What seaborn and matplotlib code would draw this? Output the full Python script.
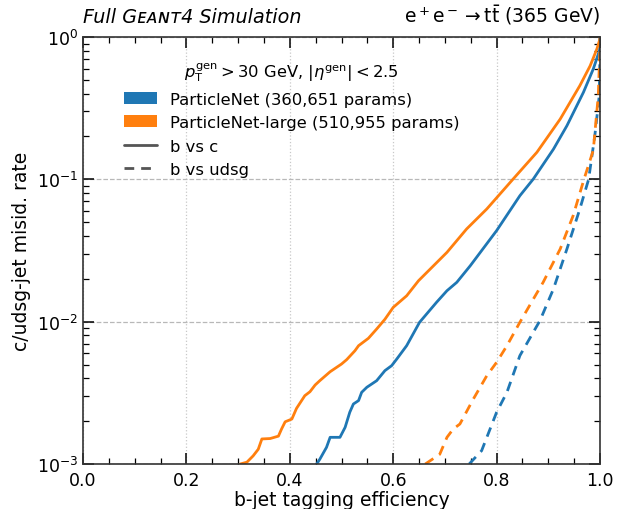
import numpy as np
import pandas as pd
import matplotlib
matplotlib.use("Agg")
import matplotlib.pyplot as plt
import seaborn as sns
from matplotlib.patches import Patch
from matplotlib.lines import Line2D
from matplotlib.ticker import MultipleLocator, LogLocator, NullFormatter

# ---- data ----
pn_bc_eff = [0.452, 0.458, 0.471, 0.478, 0.497, 0.507, 0.516, 0.523, 0.533, 0.539, 0.549,
             0.568, 0.584, 0.597, 0.607, 0.626, 0.651, 0.684, 0.704, 0.723, 0.749, 0.800,
             0.845, 0.871, 0.910, 0.936, 0.968, 0.987, 1.000, 1.000]
pn_bc_rate = [1.0e-3, 1.08e-3, 1.31e-3, 1.54e-3, 1.54e-3, 1.81e-3, 2.31e-3, 2.64e-3, 2.79e-3,
              3.19e-3, 3.46e-3, 3.85e-3, 4.53e-3, 4.91e-3, 5.47e-3, 6.78e-3, 9.9e-3, 1.37e-2,
              1.65e-2, 1.89e-2, 2.47e-2, 4.36e-2, 7.67e-2, 0.1005, 0.163, 0.238, 0.409, 0.596,
              0.824, 1.0]

pnl_bc_eff = [0.304, 0.317, 0.329, 0.339, 0.346, 0.362, 0.378, 0.384, 0.391, 0.404, 0.413,
              0.429, 0.439, 0.449, 0.458, 0.478, 0.500, 0.510, 0.526, 0.533, 0.552, 0.568,
              0.584, 0.600, 0.626, 0.649, 0.704, 0.742, 0.781, 0.832, 0.878, 0.923, 0.961,
              0.981, 0.994, 1.000, 1.000]
pnl_bc_rate = [1.0e-3, 1.03e-3, 1.14e-3, 1.27e-3, 1.50e-3, 1.51e-3, 1.57e-3, 1.76e-3, 1.98e-3,
               2.07e-3, 2.46e-3, 3.02e-3, 3.22e-3, 3.59e-3, 3.85e-3, 4.45e-3, 5.04e-3, 5.41e-3,
               6.25e-3, 6.78e-3, 7.64e-3, 8.88e-3, 1.04e-2, 1.26e-2, 1.52e-2, 1.94e-2, 3.07e-2,
               4.48e-2, 6.19e-2, 0.1005, 0.155, 0.265, 0.455, 0.628, 0.824, 0.97, 1.0]

pn_bl_eff = [0.747, 0.771, 0.800, 0.820, 0.845, 0.884, 0.910, 0.936, 0.961, 0.978, 0.990,
             0.9986, 1.000, 1.000]
pn_bl_rate = [1.0e-3, 1.24e-3, 2.31e-3, 3.19e-3, 5.77e-3, 1.02e-2, 1.70e-2, 3.24e-2, 6.19e-2,
              0.1, 0.203, 0.387, 0.824, 1.0]

pnl_bl_eff = [0.662, 0.690, 0.704, 0.716, 0.729, 0.755, 0.781, 0.800, 0.820, 0.845, 0.871,
              0.890, 0.923, 0.948, 0.969, 0.987, 0.9967, 1.000, 1.000]
pnl_bl_rate = [1.0e-3, 1.17e-3, 1.54e-3, 1.76e-3, 1.91e-3, 2.86e-3, 4.17e-3, 5.18e-3, 6.78e-3,
               9.9e-3, 1.44e-2, 1.89e-2, 3.24e-2, 5.55e-2, 0.1, 0.16, 0.387, 0.87, 1.0]

models = ["ParticleNet (360,651 params)", "ParticleNet-large (510,955 params)"]
kinds = ["b vs c", "b vs udsg"]
colors = ["#1f77b4", "#ff7f0e"]

frames = []
for model, kind, e, r in [(models[0], kinds[0], pn_bc_eff, pn_bc_rate),
                          (models[1], kinds[0], pnl_bc_eff, pnl_bc_rate),
                          (models[0], kinds[1], pn_bl_eff, pn_bl_rate),
                          (models[1], kinds[1], pnl_bl_eff, pnl_bl_rate)]:
    frames.append(pd.DataFrame({"eff": e, "rate": r, "model": model, "kind": kind}))
df = pd.concat(frames, ignore_index=True)

sns.set_style("ticks")
plt.rcParams["font.family"] = ["DejaVu Sans"]
plt.rcParams["text.color"] = "black"
plt.rcParams["axes.labelcolor"] = "black"
plt.rcParams["xtick.color"] = "black"
plt.rcParams["ytick.color"] = "black"

fig = plt.figure(figsize=(6.25, 5.1), dpi=100)
ax = fig.add_axes([0.1328, 0.0882, 0.8272, 0.8373])

for (model, kind), sub in df.groupby(["model", "kind"], sort=False):
    sns.lineplot(data=sub, x="eff", y="rate", ax=ax, estimator=None, sort=False,
                 color=colors[models.index(model)], lw=2,
                 linestyle="-" if kind == kinds[0] else (0, (3.5, 2.5)), legend=False)

ax.set_yscale("log")
ax.set_xlim(0, 1)
ax.set_ylim(1e-3, 1)
ax.xaxis.set_major_locator(MultipleLocator(0.2))
ax.xaxis.set_minor_locator(MultipleLocator(0.05))
ax.yaxis.set_major_locator(LogLocator(base=10, numticks=10))
ax.yaxis.set_minor_locator(LogLocator(base=10, subs=np.arange(2, 10) * 1.0, numticks=20))
ax.yaxis.set_minor_formatter(NullFormatter())
ax.set_xticks([0, 0.2, 0.4, 0.6, 0.8, 1.0])
ax.set_xticklabels(["0.0", "0.2", "0.4", "0.6", "0.8", "1.0"])

ax.tick_params(which="both", direction="in", top=True, right=True, labelsize=12.5)
ax.tick_params(which="major", length=8, width=1.1)
ax.tick_params(which="minor", length=4, width=0.9)
ax.tick_params(axis="x", which="major", pad=5)
for s in ax.spines.values():
    s.set_color("#333333")
    s.set_linewidth(1.2)

ax.grid(axis="x", which="major", linestyle=":", color="#c8c8c8", lw=0.9)
ax.grid(axis="y", which="major", linestyle="--", color="#b8b8b8", lw=0.9)

ax.set_xlabel("b-jet tagging efficiency", fontsize=13.5, labelpad=1)
ax.set_ylabel("c/udsg-jet misid. rate", fontsize=13.5, labelpad=4)

handles = [Patch(facecolor=colors[0], edgecolor="none"),
           Patch(facecolor=colors[1], edgecolor="none"),
           Line2D([], [], color="#555555", lw=2, linestyle="-"),
           Line2D([], [], color="#555555", lw=2, linestyle=(0, (3.5, 2.5)))]
leg = ax.legend(handles, models + kinds, loc="upper left",
                bbox_to_anchor=(0.05, 0.98), frameon=False, fontsize=11.8,
                title=r"$p_\mathrm{T}^\mathrm{gen} > 30$ GeV, $|\eta^\mathrm{gen}| < 2.5$",
                title_fontsize=11.8, handlelength=2.05, handleheight=0.75,
                labelspacing=0.52, handletextpad=0.8)

fig.text(0.1328, 0.955, "Full G\u1d07\u1d00\u0274\u1d1b4 Simulation", fontsize=13.8,
         style="italic", ha="left", va="baseline")
fig.text(0.96, 0.955, r"$\mathrm{e^+e^-\rightarrow t\bar{t}}$ (365 GeV)", fontsize=13.5,
         ha="right", va="baseline")

fig.savefig("out.png", dpi=100)
